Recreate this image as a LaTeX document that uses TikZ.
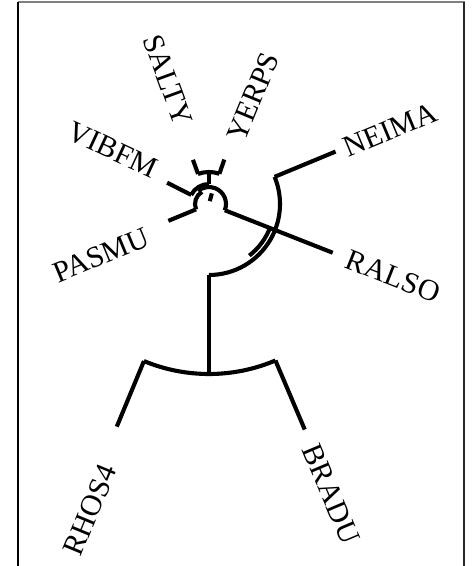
\documentclass[tikz,border=0pt]{standalone}
\usepackage{fontspec}
\setmainfont{Liberation Serif}
\begin{document}
\begin{tikzpicture}[x=1pt,y=1pt,
  br/.style={line width=4.1pt, line cap=butt, line join=miter},
  lab/.style={inner sep=0pt, font=\fontsize{30}{30}\selectfont}]
\useasboundingbox (0,0) rectangle (472,-566);
\coordinate (C) at (209,-204);
% frame
\draw[gray, line width=2pt] (18,-2) -- (465,-2);
\draw[black, line width=1.6pt] (18,-2) -- (18,-566);
\draw[black!85, line width=1.8pt] (464,-2) -- (464,-566);
% named points
\coordinate (n1a) at ([shift={(C)}]247.5:170pt);
\coordinate (n1b) at ([shift={(C)}]293:170pt);
\coordinate (tRHO) at ([shift={(C)}]247.5:241pt);
\coordinate (tBRA) at ([shift={(C)}]293:245pt);
\coordinate (n1) at ([shift={(C)}]270:170pt);
\coordinate (n2) at ([shift={(C)}]270:71pt);
\coordinate (n2e) at ([shift={(C)}]22.5:71pt);
\coordinate (tNEI) at ([shift={(C)}]22.5:137pt);
\coordinate (x2a) at ([shift={(C)}]-52:65.5pt);
\coordinate (r0) at ([shift={(C)}]-21.5:17pt);
\coordinate (tRAL) at ([shift={(C)}]-21.5:133pt);
\coordinate (aA) at ([shift={(C)}]71:32pt);
\coordinate (aB) at ([shift={(C)}]110:32pt);
\coordinate (tSAL) at ([shift={(C)}]110:47pt);
\coordinate (tYER) at ([shift={(C)}]71:47pt);
\coordinate (aS) at ([shift={(C)}]90:20pt);
\coordinate (aT) at ([shift={(C)}]90:32pt);
\coordinate (x1a) at ([shift={(C)}]153:20pt);
\coordinate (tVIB) at ([shift={(C)}]153:47pt);
\coordinate (x1b) at ([shift={(C)}]202.5:14pt);
\coordinate (x1c) at ([shift={(C)}]120:14pt);
\coordinate (tPAS) at ([shift={(C)}]202.5:44pt);
\coordinate (s0) at ([shift={(C)}]75:3pt);
\coordinate (s1) at ([shift={(C)}]75:11pt);
% tree
\draw[br] (n1a) arc[start angle=247.5, end angle=293, radius=170pt];
\draw[br] (n1a) -- (tRHO);
\draw[br] (n1b) -- (tBRA);
\draw[br] (n2) -- (n1);
\draw[br] (n2) arc[start angle=-90, end angle=22.5, radius=71pt];
\draw[br] (n2e) -- (tNEI);
\draw[br] (x2a) arc[start angle=-52, end angle=-21.5, radius=65.5pt];
\draw[br] (r0) -- (tRAL);
\draw[br] (r0) arc[start angle=-21.5, end angle=130, radius=17pt];
\draw[br] (aA) arc[start angle=71, end angle=110, radius=32pt];
\draw[br] (aA) -- (tYER);
\draw[br] (aB) -- (tSAL);
\draw[br] (aS) -- (aT);
\draw[br] (aS) arc[start angle=90, end angle=153, radius=20pt];
\draw[br] (x1a) -- (tVIB);
\draw[br] (x1c) arc[start angle=120, end angle=202.5, radius=14pt];
\draw[br] (x1b) -- (tPAS);
\draw[br] (s0) -- (s1);
% labels
\node[lab, rotate=-70] (lSAL) at (168,-80) {SALTY};
\node[lab, rotate=67.5] (lYER) at (253,-97) {YERPS};
\node[lab, rotate=-25] (lVIB) at (113,-150) {VIBFM};
\node[lab, rotate=22.5] (lPAS) at (101,-255) {PASMU};
\node[lab, rotate=22.5] (lNEI) at (390,-130) {NEIMA};
\node[lab, rotate=-21.5] (lRAL) at (393,-276) {RALSO};
\node[lab, rotate=67.5] (lRHO) at (90,-510) {RHOS4};
\node[lab, rotate=-67] (lBRA) at (331,-494) {BRADU};
\end{tikzpicture}
\end{document}
